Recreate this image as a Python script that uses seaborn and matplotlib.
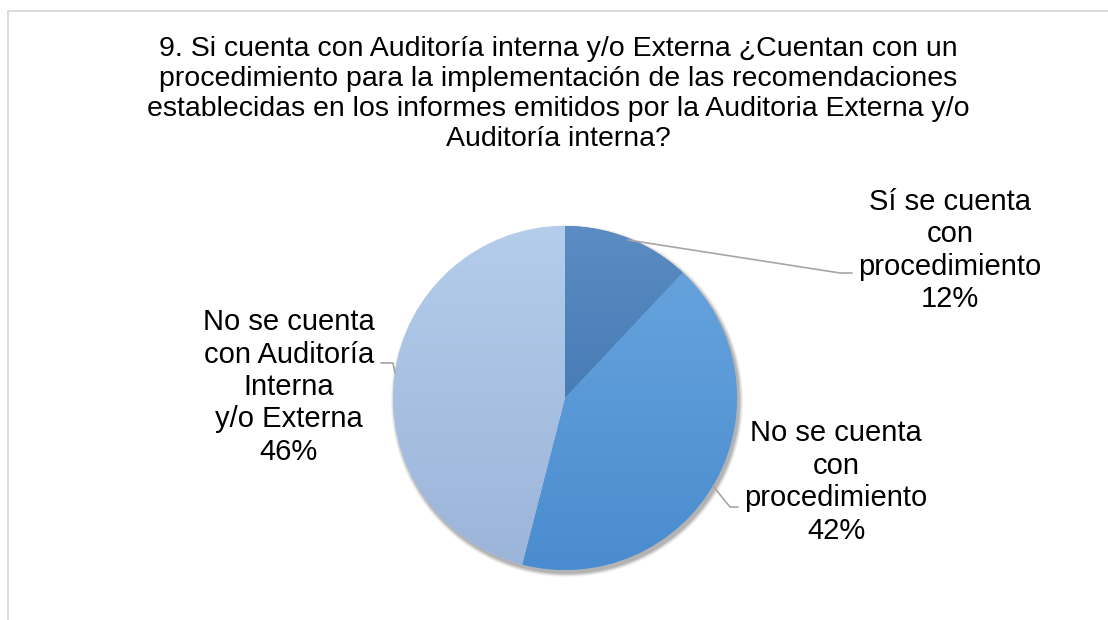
import numpy as np
import matplotlib
matplotlib.use("Agg")
import matplotlib.pyplot as plt
import seaborn as sns
from matplotlib.colors import LinearSegmentedColormap

sns.set_theme(style="white")
plt.rcParams['font.family'] = ['Liberation Sans', 'DejaVu Sans']

title = ("9. Si cuenta con Auditoría interna y/o Externa ¿Cuentan con un\n"
         "procedimiento para la implementación de las recomendaciones\n"
         "establecidas en los informes emitidos por la Auditoria Externa y/o\n"
         "Auditoría interna?")
categories = ["Sí se cuenta\ncon\nprocedimiento",
              "No se cuenta\ncon\nprocedimiento",
              "No se cuenta\ncon Auditoría\nInterna\ny/o Externa"]
shares = [12, 42, 46]
top_colors = ["#5b8cc3", "#6aa6df", "#b4cdeb"]
bottom_colors = ["#356ca8", "#4a8ccf", "#9bb4d9"]

W, H = 1108, 620
fig = plt.figure(figsize=(W / 100, H / 100), dpi=100)
ax = fig.add_axes([0, 0, 1, 1])

cx, cy, r = 565, H - 398, 172

# soft shadow
for k, a in zip(range(6, 0, -1), [0.03, 0.04, 0.05, 0.06, 0.07, 0.08]):
    ax.add_patch(plt.Circle((cx + 2, cy - 3), r + k * 0.7, color='black', alpha=a, lw=0, zorder=1))

wedges, _ = ax.pie(shares, center=(cx, cy), radius=r, startangle=90, counterclock=False,
                   colors=top_colors, wedgeprops=dict(lw=0), frame=True)
ax.set_xlim(0, W)
ax.set_ylim(0, H)
ax.set_aspect('equal')
ax.axis('off')

# vertical gradient inside each wedge
for w, c0, c1 in zip(wedges, top_colors, bottom_colors):
    cmap = LinearSegmentedColormap.from_list("g", [c1, c0])
    grad = np.linspace(0, 1, 256).reshape(-1, 1)
    im = ax.imshow(grad, cmap=cmap, extent=(cx - r, cx + r, cy - r, cy + r),
                   origin='lower', aspect='auto', zorder=3)
    im.set_clip_path(w)

fig.text(558 / W, 1 - 93.5 / H, title, ha='center', va='center', fontsize=20.5,
         color='#000000', linespacing=1.2)

lab_pos = [(950, 250.5), (836, 482), (289, 387)]
for cat, s, (x, y) in zip(categories, shares, lab_pos):
    ax.text(x, H - y, f"{cat}\n{s}%", ha='center', va='center', fontsize=21,
            color='#000000', linespacing=1.2, zorder=5)

lc = '#a6a6a6'
ax.plot([628, 840, 852], [H - 240, H - 273, H - 273], color=lc, lw=1.2, zorder=4)
ax.plot([713, 730, 738], [H - 486, H - 507, H - 507], color=lc, lw=1.2, zorder=4)
ax.plot([381, 393, 395], [H - 363, H - 363, H - 373], color=lc, lw=1.2, zorder=4)

# chart frame
fig.add_artist(plt.Line2D([7.5 / W, 1], [1 - 11 / H, 1 - 11 / H], color='#d9d9d9', lw=1.3))
fig.add_artist(plt.Line2D([7.5 / W, 7.5 / W], [0, 1 - 11 / H], color='#d9d9d9', lw=1.3))

fig.savefig("out.png", dpi=100, facecolor='white')
